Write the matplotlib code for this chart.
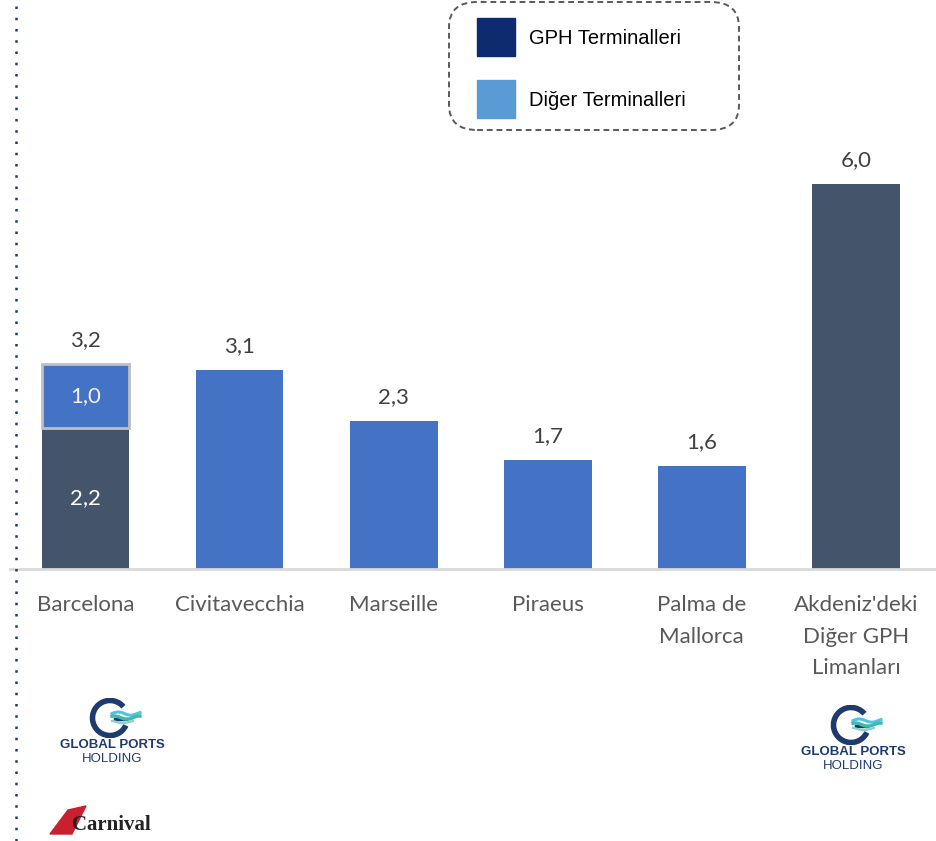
import numpy as np
import matplotlib.pyplot as plt
from matplotlib.patches import FancyBboxPatch, Rectangle, Arc, Polygon
from matplotlib.lines import Line2D

# categories and values (millions of passengers)
CATEGORIES = ["Barcelona", "Civitavecchia", "Marseille", "Piraeus",
              "Palma de\nMallorca", "Akdeniz'deki\nDiğer GPH\nLimanları"]
GPH_PART = [2.2, 0, 0, 0, 0, 6.0]
OTHER_PART = [1.0, 3.1, 2.3, 1.7, 1.6, 0]
TOTALS = [3.2, 3.1, 2.3, 1.7, 1.6, 6.0]
LEGEND_LABELS = ["GPH Terminalleri", "Diğer Terminalleri"]

DARK = "#44546A"
BLUE = "#4472C4"
LEG_DARK = "#0D2B6E"
LEG_LIGHT = "#5B9BD5"
NAVY = "#1F3A6E"
TEAL = "#3FB8B0"

W, H = 936, 841
plt.rcParams['font.family'] = ['Lato', 'DejaVu Sans']

fig = plt.figure(figsize=(W / 100, H / 100), dpi=100)

def fx(px):
    return px / W

def fy(py):
    return 1 - py / H

ax = fig.add_axes([fx(10), fy(569), fx(926), 569 / H])
x = np.arange(len(CATEGORIES))
bw = 0.57

# GPH parts
for i in x:
    if GPH_PART[i] > 0:
        ax.bar(i, GPH_PART[i], width=bw, color=DARK, zorder=2)
# other terminals
for i in x:
    if OTHER_PART[i] > 0:
        if GPH_PART[i] > 0:
            ax.bar(i, OTHER_PART[i], bottom=GPH_PART[i], width=bw, color=BLUE,
                   edgecolor="#BFBFBF", linewidth=2, zorder=3)
        else:
            ax.bar(i, OTHER_PART[i], width=bw, color=BLUE, zorder=2)

# totals above bars
for i in x:
    ax.annotate(f"{TOTALS[i]:.1f}".replace(".", ","), (i, TOTALS[i]),
                xytext=(0, 10), textcoords="offset points", ha="center", va="bottom",
                fontsize=16, color="#404040")

# inside labels for Barcelona
ax.text(0, GPH_PART[0] / 2, f"{GPH_PART[0]:.1f}".replace(".", ","), ha="center", va="center",
        fontsize=16, color="white", zorder=4)
ax.text(0, GPH_PART[0] + OTHER_PART[0] / 2, f"{OTHER_PART[0]:.1f}".replace(".", ","),
        ha="center", va="center", fontsize=16, color="#F2F2F2", zorder=4)

ax.set_xlim(-0.49, 5.52)
ax.set_ylim(0, 569 / 64.2)
ax.set_xticks(x)
ax.set_xticklabels(CATEGORIES, fontsize=16, color="#595959", linespacing=1.72)
ax.tick_params(axis="x", length=0, pad=19)
ax.set_yticks([])
for s in ["top", "right", "left"]:
    ax.spines[s].set_visible(False)
ax.spines["bottom"].set_color("#D9D9D9")
ax.spines["bottom"].set_linewidth(2)
ax.patch.set_alpha(0)

# dotted vertical line at left
fig.add_artist(Line2D([fx(16), fx(16)], [0, 1], color=NAVY, linestyle=(0, (1, 3.5)),
                      linewidth=1.8))

# legend box
box = FancyBboxPatch((fx(449), fy(130)), fx(290), 128 / H,
                     boxstyle="round,pad=0,rounding_size=0.03", transform=fig.transFigure,
                     facecolor="white", edgecolor="#595959", linestyle=(0, (3, 2)),
                     linewidth=1.4)
fig.add_artist(box)
for (top, col, lab) in [(18, LEG_DARK, LEGEND_LABELS[0]), (80, LEG_LIGHT, LEGEND_LABELS[1])]:
    fig.add_artist(Rectangle((fx(477), fy(top + 38)), fx(38), 38 / H,
                             transform=fig.transFigure, color=col))
    fig.text(fx(529), fy(top + 21), lab, fontsize=14.5, va="center", ha="left",
             family=["Liberation Sans", "DejaVu Sans"], color="black")


def gph_logo(cx, top):
    # small icon axes with equal aspect
    lax = fig.add_axes([fx(cx - 30), fy(top + 40), fx(60), 40 / H])
    lax.set_xlim(-1.5, 1.5)
    lax.set_ylim(-1, 1)
    lax.set_aspect("equal")
    lax.axis("off")
    lax.add_patch(Arc((-0.1, 0), 1.75, 1.75, theta1=40, theta2=335, color=NAVY, linewidth=4))
    lax.plot([0.15, 0.7], [-0.05, -0.05], color=NAVY, linewidth=2.5)
    t = np.linspace(0.0, 1.4, 40)
    lax.plot(t, 0.22 + 0.08 * np.sin(t * 5), color="#4FC3E0", linewidth=2.2)
    lax.plot(t, 0.02 + 0.08 * np.sin(t * 5 + 1), color=TEAL, linewidth=2.4)
    lax.plot(t[:30], -0.2 + 0.06 * np.sin(t[:30] * 5 + 2), color="#86D4C4", linewidth=1.6)
    fig.text(fx(cx), fy(top + 47), "GLOBAL PORTS", ha="center", va="center",
             fontsize=9.5, fontweight="bold", color=NAVY,
             family=["Liberation Sans", "DejaVu Sans"])
    fig.text(fx(cx), fy(top + 61), "HOLDING", ha="center", va="center",
             fontsize=9.5, color=NAVY, family=["Liberation Sans", "DejaVu Sans"])


gph_logo(112, 698)
gph_logo(853, 705)

# Carnival logo
fig.add_artist(Polygon([[fx(50), fy(834)], [fx(68), fy(810)], [fx(86), fy(806)],
                        [fx(80), fy(818)], [fx(72), fy(834)]],
                       closed=True, transform=fig.transFigure, color="#C8202F"))
fig.text(fx(72), fy(825), "Carnival", ha="left", va="center", fontsize=15,
         fontweight="bold", color="#222222", family=["Liberation Serif", "DejaVu Serif"])

fig.savefig("out.png", dpi=100)
